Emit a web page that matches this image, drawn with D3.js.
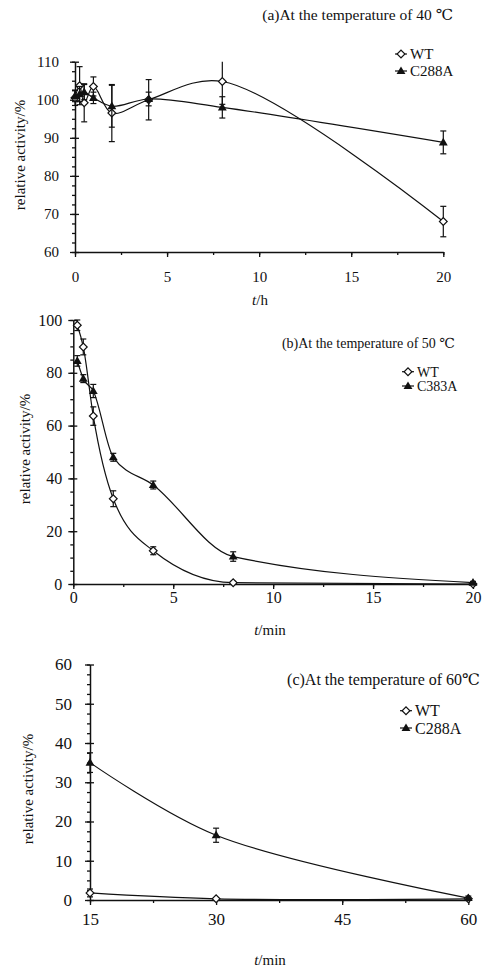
<!DOCTYPE html>
<html>
<head>
<meta charset="utf-8">
<script src="https://cdn.jsdelivr.net/npm/d3@7/dist/d3.min.js"></script>
<style>
  body { margin: 0; background: #fff; }
  svg text { font-family: "Liberation Serif", "DejaVu Serif", serif; fill: #111; }
</style>
</head>
<body>
<div class="chart"></div>
<script>
"use strict";
var SERIF = "'Liberation Serif', 'DejaVu Serif', serif";

// (a) 40 C, time in hours
var timeA = [0, 0.25, 0.5, 1, 2, 4, 8, 20];
var wtA = [100.5, 103.7, 99.2, 103.5, 96.5, 100, 104.8, 68];
var wtErrA = [2, 5, 5, 2.5, 7.5, 5.3, 6, 4];
var mutA = [101, 101.5, 102, 100.5, 98.3, 100.2, 98, 88.8];
var mutErrA = [1.5, 2, 2, 1.5, 5.5, 1.8, 2.8, 3];
var xTicksA = [0, 5, 10, 15, 20];
var yTicksA = [60, 70, 80, 90, 100, 110];

// (b) 50 C, time in minutes
var timeB = [0.2, 0.5, 1, 2, 4, 8, 20];
var wtB = [98, 89.8, 63.6, 32.3, 12.6, 0.5, 0];
var wtErrB = [2, 3, 3.5, 3, 1.5, 0.5, 0.3];
var mutB = [84.5, 77.8, 73.1, 48, 37.5, 10.4, 0.5];
var mutErrB = [2, 1.5, 2.5, 1.5, 1.5, 1.8, 0.5];
var xTicksB = [0, 5, 10, 15, 20];
var yTicksB = [0, 20, 40, 60, 80, 100];

// (c) 60 C, time in minutes
var timeC = [15, 30, 60];
var wtC = [1.8, 0.3, 0.3];
var wtErrC = [1, 0.3, 0.3];
var mutC = [35, 16.5, 0.5];
var mutErrC = [2.5, 1.8, 0.5];
var xTicksC = [15, 30, 45, 60];
var yTicksC = [0, 10, 20, 30, 40, 50, 60];

var panels = [
  {
    title: "(a)At the temperature of 40 \u2103", titleX: 453, titleY: 20, titleSize: 15.5,
    xLabel: "h", xLabelX: 260, xLabelY: 305,
    yLabelX: 20, yLabelY: 155,
    xRange: [75, 443.3], yRange: [252, 61.7],
    xDomain: [0, 20], yDomain: [60, 110],
    xTicks: xTicksA, yTicks: yTicksA, xMinor: 2.5, yMinor: 2.5,
    tickSize: 15, xPad: 14, yPad: 11,
    legendX: 395, legendY: [54, 71], legendSize: 15,
    names: ["WT", "C288A"], curve: d3.curveCatmullRom.alpha(0.5),
    t: timeA, wt: wtA, wtErr: wtErrA, mut: mutA, mutErr: mutErrA
  },
  {
    title: "(b)At the temperature of 50 \u2103", titleX: 455, titleY: 348, titleSize: 14,
    xLabel: "min", xLabelX: 270, xLabelY: 635,
    yLabelX: 25, yLabelY: 449,
    xRange: [73.3, 473], yRange: [584, 320],
    xDomain: [0, 20], yDomain: [0, 100],
    xTicks: xTicksB, yTicks: yTicksB, xMinor: 2.5, yMinor: 5,
    tickSize: 16, xPad: 3, yPad: 6,
    legendX: 402, legendY: [371.7, 386], legendSize: 14,
    names: ["WT", "C383A"], curve: d3.curveMonotoneX,
    t: timeB, wt: wtB, wtErr: wtErrB, mut: mutB, mutErr: mutErrB
  },
  {
    title: "(c)At the temperature of 60\u2103", titleX: 480, titleY: 685, titleSize: 16,
    xLabel: "min", xLabelX: 270, xLabelY: 965,
    yLabelX: 28, yLabelY: 789,
    xRange: [90, 468.3], yRange: [900, 664.5],
    xDomain: [15, 60], yDomain: [0, 60],
    xTicks: xTicksC, yTicks: yTicksC, xMinor: 7.5, yMinor: 2.5,
    tickSize: 17, xPad: 8, yPad: 13,
    legendX: 400, legendY: [710.7, 728], legendSize: 16,
    names: ["WT", "C288A"], curve: d3.curveCatmullRom.alpha(0.5),
    t: timeC, wt: wtC, wtErr: wtErrC, mut: mutC, mutErr: mutErrC
  }
];

var svg = d3.select(".chart").append("svg")
  .attr("width", 484)
  .attr("height", 967)
  .style("font-family", SERIF);

var diamond = d3.symbol().type(d3.symbolSquare).size(30);
var triangle = d3.symbol().type(d3.symbolTriangle).size(34);

function drawMarker(g, kind, cx, cy) {
  if (kind === "wt") {
    g.append("path").attr("d", diamond())
      .attr("transform", "translate(" + cx + "," + cy + ") rotate(45)")
      .attr("fill", "#fff").attr("stroke", "#111").attr("stroke-width", 1.2);
  } else {
    g.append("path").attr("d", triangle())
      .attr("transform", "translate(" + cx + "," + (cy + 0.5) + ")")
      .attr("fill", "#111");
  }
}

panels.forEach(function(p) {
  var x = d3.scaleLinear().domain(p.xDomain).range(p.xRange);
  var y = d3.scaleLinear().domain(p.yDomain).range(p.yRange);
  var g = svg.append("g");

  var yMinorTicks = d3.range(p.yDomain[0], p.yDomain[1] + 0.01, p.yMinor);
  var xMinorTicks = d3.range(p.xDomain[0], p.xDomain[1] + 0.01, p.xMinor);

  // minor ticks
  g.append("g").attr("class", "minor")
    .attr("transform", "translate(" + p.xRange[0] + ",0)")
    .call(d3.axisLeft(y).tickValues(yMinorTicks).tickSize(3).tickFormat(""));
  g.append("g").attr("class", "minor")
    .attr("transform", "translate(0," + p.yRange[0] + ")")
    .call(d3.axisBottom(x).tickValues(xMinorTicks).tickSize(3).tickFormat(""));

  // major ticks crossing the axis
  g.append("g").attr("class", "inner")
    .attr("transform", "translate(" + p.xRange[0] + ",0)")
    .call(d3.axisLeft(y).tickValues(p.yTicks).tickSize(-4).tickFormat(""));

  g.append("g")
    .attr("transform", "translate(" + p.xRange[0] + ",0)")
    .call(d3.axisLeft(y).tickValues(p.yTicks).tickSize(5).tickSizeOuter(0).tickPadding(p.yPad));
  g.append("g")
    .attr("transform", "translate(0," + p.yRange[0] + ")")
    .call(d3.axisBottom(x).tickValues(p.xTicks).tickSize(5).tickSizeOuter(0).tickPadding(p.xPad));

  g.selectAll("g").attr("font-family", SERIF);
  g.selectAll(".domain").attr("stroke", "#111").attr("stroke-width", 1.5);
  g.selectAll(".tick line").attr("stroke", "#111").attr("stroke-width", 1.3);
  g.selectAll(".minor .domain, .inner .domain").remove();
  g.selectAll(".tick text")
    .style("font-size", p.tickSize + "px")
    .style("font-family", SERIF)
    .attr("fill", "#111");

  // titles and axis labels
  g.append("text").text(p.title)
    .attr("x", p.titleX).attr("y", p.titleY)
    .attr("text-anchor", "end")
    .style("font-family", SERIF)
    .style("font-size", p.titleSize + "px");

  var xl = g.append("text")
    .attr("x", p.xLabelX).attr("y", p.xLabelY)
    .attr("text-anchor", "middle")
    .style("font-family", SERIF)
    .style("font-size", "15px");
  xl.append("tspan").text("t").style("font-style", "italic");
  xl.append("tspan").text("/" + p.xLabel);

  g.append("text").text("relative activity/%")
    .attr("transform", "translate(" + p.yLabelX + "," + p.yLabelY + ") rotate(-90)")
    .attr("text-anchor", "middle")
    .attr("dy", "0.35em")
    .style("font-family", SERIF)
    .style("font-size", "15px");

  var line = d3.line()
    .x(function(d) { return x(d[0]); })
    .y(function(d) { return y(d[1]); })
    .curve(p.curve);

  var series = [
    { kind: "wt", vals: p.wt, err: p.wtErr },
    { kind: "mut", vals: p.mut, err: p.mutErr }
  ];

  series.forEach(function(s) {
    var pts = p.t.map(function(t, i) { return [t, s.vals[i], s.err[i]]; });

    g.append("path").datum(pts)
      .attr("d", line)
      .attr("fill", "none")
      .attr("stroke", "#111")
      .attr("stroke-width", 1.2);

    var eb = g.append("g").selectAll("g").data(pts).enter().append("g");
    eb.append("line")
      .attr("x1", function(d) { return x(d[0]); })
      .attr("x2", function(d) { return x(d[0]); })
      .attr("y1", function(d) { return y(Math.min(p.yDomain[1], d[1] + d[2])); })
      .attr("y2", function(d) { return y(Math.max(p.yDomain[0], d[1] - d[2])); })
      .attr("stroke", "#111").attr("stroke-width", 1.2);
    [1, -1].forEach(function(sign) {
      eb.append("line")
        .attr("x1", function(d) { return x(d[0]) - 3; })
        .attr("x2", function(d) { return x(d[0]) + 3; })
        .attr("y1", function(d) { return y(d[1] + sign * d[2]); })
        .attr("y2", function(d) { return y(d[1] + sign * d[2]); })
        .attr("stroke", "#111").attr("stroke-width", 1.2)
        .style("display", function(d) {
          var v = d[1] + sign * d[2];
          return (v < p.yDomain[0] || v > p.yDomain[1]) ? "none" : null;
        });
    });

    pts.forEach(function(d) {
      drawMarker(g, s.kind, x(d[0]), y(d[1]));
    });
  });

  // legend
  var lg = g.append("g");
  series.forEach(function(s, i) {
    var ly = p.legendY[i];
    lg.append("line")
      .attr("x1", p.legendX).attr("x2", p.legendX + 12)
      .attr("y1", ly).attr("y2", ly)
      .attr("stroke", "#111").attr("stroke-width", 1.2);
    drawMarker(lg, s.kind, p.legendX + 6, ly);
    lg.append("text").text(p.names[i])
      .attr("x", p.legendX + 15).attr("y", ly)
      .attr("dy", "0.35em")
      .style("font-family", SERIF)
      .style("font-size", p.legendSize + "px");
  });
});
</script>
</body>
</html>
